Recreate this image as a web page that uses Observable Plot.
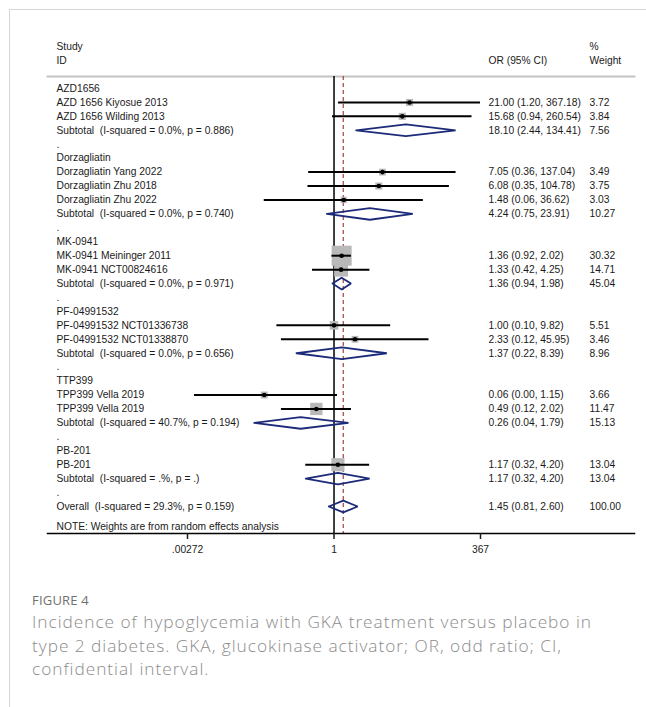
<!DOCTYPE html>
<html><head><meta charset="utf-8">
<script src="https://cdn.jsdelivr.net/npm/d3@7"></script>
<script src="https://cdn.jsdelivr.net/npm/@observablehq/plot@0.6"></script>
<style>
html,body{margin:0;padding:0;background:#fff;}
body{width:646px;height:707px;position:relative;overflow:hidden;}
#frame{position:absolute;left:9px;top:9px;right:-2px;bottom:-2px;border-left:1px solid #d6d6d6;border-top:1px solid #d6d6d6;}
#chart{position:absolute;left:0;top:0;}
#chart svg text{white-space:pre;}
#cap{position:absolute;left:32px;top:590px;font-family:"Open Sans",sans-serif;color:#8c8c8c;}
#cap .fig{font-size:13px;color:#707070;letter-spacing:0.2px;line-height:20px;}
#cap .txt{font-size:17.3px;font-weight:300;white-space:nowrap;}
#cap .txt div{height:23.5px;line-height:23.5px;overflow:visible;}
</style></head>
<body>
<div id="frame"></div>
<div id="chart"></div>
<div id="cap"><div class="fig">FIGURE 4</div><div class="txt" id="capTxt"></div></div>
<script>
// ---- data ----
const groups = ["AZD1656","Dorzagliatin","MK-0941","PF-04991532","TTP399","PB-201"];
const studyNames = ["AZD 1656 Kiyosue 2013","AZD 1656 Wilding 2013","Dorzagliatin Yang 2022","Dorzagliatin Zhu 2018","Dorzagliatin Zhu 2022","MK-0941 Meininger 2011","MK-0941 NCT00824616","PF-04991532 NCT01336738","PF-04991532 NCT01338870","TPP399 Vella 2019","TPP399 Vella 2019","PB-201"];
const studyGroup = [0,0,1,1,1,2,2,3,3,4,4,5];
const studyOR = [21.00,15.68,7.05,6.08,1.48,1.36,1.33,1.00,2.33,0.06,0.49,1.17];
const studyLo = [1.20,0.94,0.36,0.35,0.06,0.92,0.42,0.10,0.12,0.0036,0.12,0.32];
const studyHi = [367.18,260.54,137.04,104.78,36.62,2.02,4.25,9.82,45.95,1.15,2.02,4.20];
const studyWeight = [3.72,3.84,3.49,3.75,3.03,30.32,14.71,5.51,3.46,3.66,11.47,13.04];
const subOR = [18.10,4.24,1.36,1.37,0.26,1.17];
const subLo = [2.44,0.75,0.94,0.22,0.04,0.32];
const subHi = [134.41,23.91,1.98,8.39,1.79,4.20];
const subWeight = [7.56,10.27,45.04,8.96,15.13,13.04];
const subI2 = ["0.0%","0.0%","0.0%","0.0%","40.7%",".%"];
const subP = ["0.886","0.740","0.971","0.656","0.194","."];
const overallOR = 1.45, overallLo = 0.81, overallHi = 2.60, overallWeight = 100.00;
const overallI2 = "29.3%", overallP = "0.159";
const tickValues = [0.00272, 1, 367];
const tickLabels = [".00272", "1", "367"];
const headLeft = ["Study", "ID"];
const headCI = "OR (95% CI)";
const headW = ["%", "Weight"];
const noteText = "NOTE: Weights are from random effects analysis";
const captionLines = [
  "Incidence of hypoglycemia with GKA treatment versus placebo in",
  "type 2 diabetes. GKA, glucokinase activator; OR, odd ratio; CI,",
  "confidential interval."
];

// ---- build rows ----
const fmtCI = (o,l,h) => `${o.toFixed(2)} (${l.toFixed(2)}, ${h.toFixed(2)})`;
const rows = [], studies = [], pooled = [];
let r = 0;
groups.forEach((g, gi) => {
  rows.push({row: r++, label: g});
  studyNames.forEach((s, i) => {
    if (studyGroup[i] !== gi) return;
    const d = {row: r++, label: s, or: studyOR[i], lo: studyLo[i], hi: studyHi[i], w: studyWeight[i],
      ci: fmtCI(studyOR[i], studyLo[i], studyHi[i]), wt: studyWeight[i].toFixed(2)};
    rows.push(d); studies.push(d);
  });
  const sd = {row: r++, label: `Subtotal  (I-squared = ${subI2[gi]}, p = ${subP[gi]})`, or: subOR[gi], lo: subLo[gi], hi: subHi[gi],
    ci: fmtCI(subOR[gi], subLo[gi], subHi[gi]), wt: subWeight[gi].toFixed(2)};
  rows.push(sd); pooled.push(sd);
  rows.push({row: r++, label: "."});
});
const od = {row: r++, label: `Overall  (I-squared = ${overallI2}, p = ${overallP})`, or: overallOR, lo: overallLo, hi: overallHi,
  ci: fmtCI(overallOR, overallLo, overallHi), wt: overallWeight.toFixed(2)};
rows.push(od); pooled.push(od);
const lastRow = r - 1;

const h = 0.42;
const diamonds = pooled.flatMap((d, k) => [
  {id: k, x: d.lo, y: d.row}, {id: k, x: d.or, y: d.row - h}, {id: k, x: d.hi, y: d.row},
  {id: k, x: d.or, y: d.row + h}, {id: k, x: d.lo, y: d.row}
]);
const withCI = rows.filter(d => d.ci);

const colL = 9, colCI = 441, colW = 542;
const FS = 10.25;
const txt = {frameAnchor: "left", textAnchor: "start", fontSize: FS, fill: "#1a1a1a"};
const tickLabel = d => tickLabels[d3.minIndex(tickValues, t => Math.abs(Math.log(t / d)))];

const chart = Plot.plot({
  width: 646, height: 575,
  marginLeft: 47, marginRight: 12, marginTop: 76, marginBottom: 42,
  style: {fontFamily: "'Liberation Sans', Arial, sans-serif", fontSize: FS + "px", background: "transparent", color: "#1a1a1a"},
  x: {type: "log", domain: [tickValues[0], tickValues[2]], range: [187, 480], axis: null},
  y: {domain: [0, lastRow], range: [88, 506], axis: null},
  r: {type: "sqrt", domain: [0, d3.max(studyWeight)], range: [0, 11.3]},
  marks: [
    Plot.frame({anchor: "top", stroke: "#c4c4c4", strokeWidth: 2}),
    Plot.ruleX([1], {stroke: "#000", strokeWidth: 1.5}),
    Plot.ruleX([overallOR], {stroke: "#9e2f2f", strokeWidth: 1.1, strokeDasharray: "4,3"}),
    Plot.dot(studies, {x: "or", y: "row", r: "w", symbol: "square", fill: "#b9b9b9"}),
    Plot.ruleY(studies, {y: "row", x1: "lo", x2: "hi", stroke: "#000", strokeWidth: 2}),
    Plot.dot(studies, {x: "or", y: "row", r: 2.3, symbol: "circle", fill: "#000"}),
    Plot.line(diamonds, {x: "x", y: "y", z: "id", stroke: "#1c2a7a", strokeWidth: 1.8, strokeLinejoin: "miter"}),
    Plot.text(rows, {...txt, y: "row", text: "label", dx: colL}),
    Plot.text(withCI, {...txt, y: "row", text: "ci", dx: colCI}),
    Plot.text(withCI, {...txt, y: "row", text: "wt", dx: colW}),
    Plot.text(headLeft, {...txt, y: (d, i) => i - 3, text: d => d, dx: colL}),
    Plot.text([headCI], {...txt, y: [-2], text: d => d, dx: colCI}),
    Plot.text(headW, {...txt, y: (d, i) => i - 3, text: d => d, dx: colW}),
    Plot.text([noteText], {...txt, y: [lastRow + 1.44], text: d => d, dx: colL}),
    Plot.frame({anchor: "bottom", stroke: "#000", strokeWidth: 1.5}),
    Plot.axisX(tickValues, {tickFormat: () => "", tickSize: 6, strokeWidth: 1.5, label: null}),
    Plot.text(tickValues, {x: d => d, frameAnchor: "bottom", lineAnchor: "top", dy: 12, text: tickLabel, fontSize: FS, fill: "#1a1a1a"})
  ]
});
document.getElementById("chart").appendChild(chart);

const cap = document.getElementById("capTxt");
cap.innerHTML = captionLines.map(l => `<div><span>${l}</span></div>`).join("");
const s = cap.querySelector("span");
const wNow = s.getBoundingClientRect().width;
if (wNow > 0) cap.style.letterSpacing = ((560 - wNow) / captionLines[0].length).toFixed(3) + "px";
</script>
</body></html>
